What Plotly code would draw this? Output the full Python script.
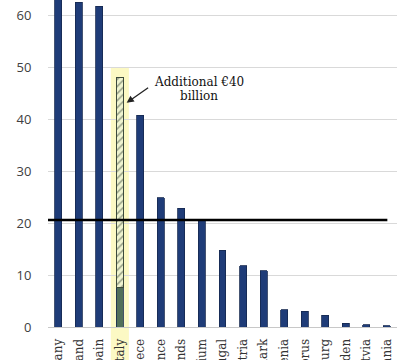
import plotly.graph_objects as go

countries = ["Germany", "Ireland", "Spain", "Italy", "Greece", "France", "Netherlands",
             "Belgium", "Portugal", "Austria", "Denmark", "Slovenia", "Cyprus",
             "Luxembourg", "Sweden", "Latvia", "Lithuania"]
values = [68, 62.6, 61.8, 7.7, 40.8, 24.9, 22.9, 20.6, 14.8, 11.8, 10.8, 3.3, 3.0, 2.3, 0.7, 0.45, 0.25]
italy_additional = 40.3
threshold = 20.6
ytick_vals = [0, 10, 20, 30, 40, 50, 60]
note_lines = ["Additional €40", "billion"]

NAVY = "#1f3c78"
bar_colors = [NAVY] * len(countries)
bar_colors[3] = "#52705a"

extra = [None] * len(countries)
extra[3] = italy_additional

fig = go.Figure()
fig.add_trace(go.Bar(x=countries, y=values, marker=dict(color=bar_colors,
                     line=dict(color="#15284f", width=0.8)), width=0.34, showlegend=False))
fig.add_trace(go.Bar(x=countries, y=extra, width=0.34, showlegend=False,
                     marker=dict(color="#eef3cf", line=dict(color="#3c4a3c", width=1),
                                 pattern=dict(shape="/", fgcolor="#3c4a3c", bgcolor="#eef3cf",
                                              size=5, solidity=0.3))))

fig.add_shape(type="rect", xref="x", yref="paper", x0=2.56, x1=3.44, y0=-0.2, y1=50 / 63.0,
              fillcolor="#fcf9c4", line=dict(width=0), layer="below")
fig.add_shape(type="line", xref="x", yref="y", x0=-0.5, x1=16.03, y0=threshold, y1=threshold,
              line=dict(color="black", width=2.5), layer="above")

fig.add_annotation(x=3.33, y=43.2, xref="x", yref="y", ax=23, ay=-16, axref="pixel", ayref="pixel",
                   text="", showarrow=True, arrowhead=2, arrowsize=1.1, arrowwidth=1.3,
                   arrowcolor="#222222")
for txt, yy in zip(note_lines, [47.2, 44.6]):
    fig.add_annotation(x=6.85, y=yy, xref="x", yref="y", showarrow=False,
                       text="<b>" + txt + "</b>" if False else txt, align="center",
                       font=dict(family="DejaVu Serif", size=12, color="#111111"))

fig.update_layout(
    width=400, height=360, barmode="stack", bargap=0.5,
    margin=dict(l=48, r=3, t=0, b=33),
    paper_bgcolor="white", plot_bgcolor="white",
    xaxis=dict(range=[-0.5, 16.5], tickangle=-90, showgrid=False, automargin=False,
               tickfont=dict(family="DejaVu Serif", size=12, color="#333333"),
               ticks="outside", ticklen=6, tickcolor="rgba(0,0,0,0)",
               showline=False, zeroline=False),
    yaxis=dict(range=[0, 63.0], tickvals=ytick_vals, showgrid=True, gridcolor="#d9d9d9",
               gridwidth=1, zeroline=True, zerolinecolor="#c8c8c8", zerolinewidth=1,
               automargin=False, ticks="outside", ticklen=13, tickcolor="rgba(0,0,0,0)",
               tickfont=dict(family="Open Sans", size=13, color="#404040")),
)

fig.write_html("out.html", config={"displayModeBar": False},
               post_script="document.body.style.margin='0';")
